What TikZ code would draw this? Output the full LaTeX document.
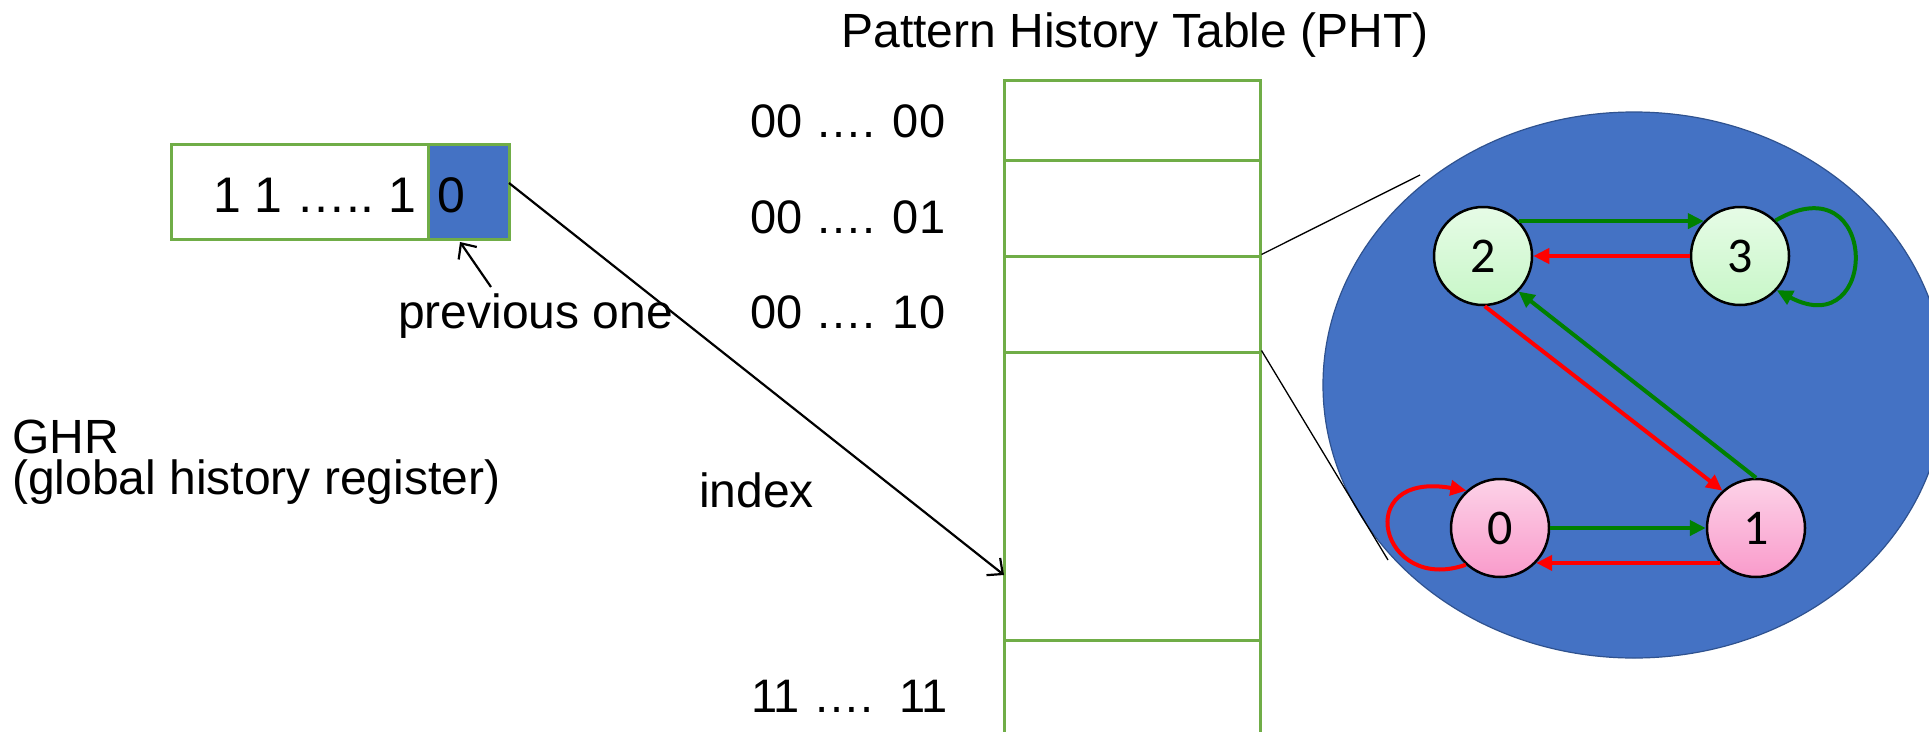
\documentclass[tikz,border=0pt]{standalone}
\usepackage{fontspec}
\setmainfont{Liberation Sans}
\newfontfamily\statefont{Carlito}
\usetikzlibrary{arrows.meta,shapes.geometric}

\definecolor{tblgreen}{HTML}{70AD47}
\definecolor{cellblue}{HTML}{4472C4}
\definecolor{rimblue}{HTML}{2F528F}
\definecolor{gogreen}{HTML}{008000}
\definecolor{stopred}{HTML}{FF0000}
\definecolor{mintfill}{HTML}{C8F7C8}
\definecolor{pinkfill}{HTML}{F99BCB}

\begin{document}
\begin{tikzpicture}[x=1pt,y=-1pt,
  txt/.style={inner sep=0pt, anchor=base west, font=\fontsize{48}{55}\selectfont},
  rowtxt/.style={txt, font=\fontsize{47}{54}\selectfont},
  bigtxt/.style={inner sep=0pt, anchor=base west, font=\fontsize{50}{58}\selectfont},
  cell/.style={draw=tblgreen, line width=3pt, fill=white, minimum width=256pt, inner sep=0pt},
  regbox/.style={draw=tblgreen, line width=3pt, inner sep=0pt, minimum height=95pt},
  state/.style={circle, draw=black, line width=2.5pt, minimum size=98pt, inner sep=0pt,
                font=\statefont\fontsize{50}{58}\selectfont},
  weak/.style={state, top color=white!55!mintfill, bottom color=mintfill},
  strong/.style={state, top color=white!55!pinkfill, bottom color=pinkfill},
  fsm/.style={line width=4pt, -{Triangle[length=16pt,width=15pt]}},
  taken/.style={fsm, draw=gogreen},
  nottaken/.style={fsm, draw=stopred},
  pointer/.style={line width=2.2pt, -{Straight Barb[length=12pt,width=22pt]}},
  zoomline/.style={line width=1.3pt}
]
\useasboundingbox (0,0) rectangle (1929,731);

% title
\node[txt, anchor=base] (title) at (1135,47) {Pattern History Table (PHT)};

% global history register
\node[regbox, minimum width=257pt, fill=white] (ghrbits) at (299.5,191.5) {};
\node[regbox, minimum width=81pt, fill=cellblue] (ghrlast) at (468.5,191.5) {};
\node[bigtxt] (bitsval) at (213,212) {1 1 …..\ 1};
\node[bigtxt] (lastval) at (437,212) {0};
\node[txt] (prevlbl) at (398,328) {previous one};
\coordinate (prevtail) at (491,287);
\coordinate (prevtip) at (460,242);
\draw[pointer] (prevtail) -- (prevtip);

\node[inner sep=0pt, anchor=north west, align=left,
      font=\fontsize{48}{41}\selectfont] (ghrname) at (12,420)
  {GHR\\(global history register)};

% pattern history table
\node[cell, minimum height=80pt]  (row0) at (1132,120) {};
\node[cell, minimum height=96pt]  (row1) at (1132,208) {};
\node[cell, minimum height=96pt]  (row2) at (1132,304) {};
\node[cell, minimum height=288pt] (row3) at (1132,496) {};
\node[cell, minimum height=130pt] (row4) at (1132,705) {};

\node[rowtxt] (idx0) at (750,137) {00 …. 00};
\node[rowtxt] (idx1) at (750,233) {00 …. 01};
\node[rowtxt] (idx2) at (750,328) {00 …. 10};
\node[txt] (idxlbl) at (699,507) {index};
\node[rowtxt] (idxlast) at (751,712) {11 ….\ \ 11};

% index arrow from the register into the table
\coordinate (ghrout) at (509,183);
\coordinate (rowhit) at (1004,575);
\draw[pointer] (ghrout) -- (rowhit);

% magnified counter
\draw[fill=cellblue, draw=rimblue, line width=1.2pt] (1634,385) ellipse [x radius=311, y radius=273];
\coordinate (zoomtop) at (1420,175);
\coordinate (zoombot) at (1388,560);
\draw[zoomline] (row2.north east) -- (zoomtop);
\draw[zoomline] (row3.north east) -- (zoombot);

\node[weak]   (s2) at (1483,256) {2};
\node[weak]   (s3) at (1740,256) {3};
\node[strong] (s0) at (1500,528) {0};
\node[strong] (s1) at (1756,528) {1};

\draw[taken]    (s2.44) -- (s3.136);
\draw[nottaken] (s3.west) -- (s2.east);
\draw[taken]    (s0.east) -- (s1.west);
\draw[nottaken] (s1.224) -- (s0.316);
\draw[nottaken] (s2.272) -- (s1.132);
\draw[taken]    (s1.90) -- (s2.315);
\draw[taken]    (s3.45) .. controls (1880,160) and (1880,345) .. (s3.-43);
\draw[nottaken] (s0.227) .. controls (1380,595) and (1350,470) .. (s0.132);
\end{tikzpicture}
\end{document}
